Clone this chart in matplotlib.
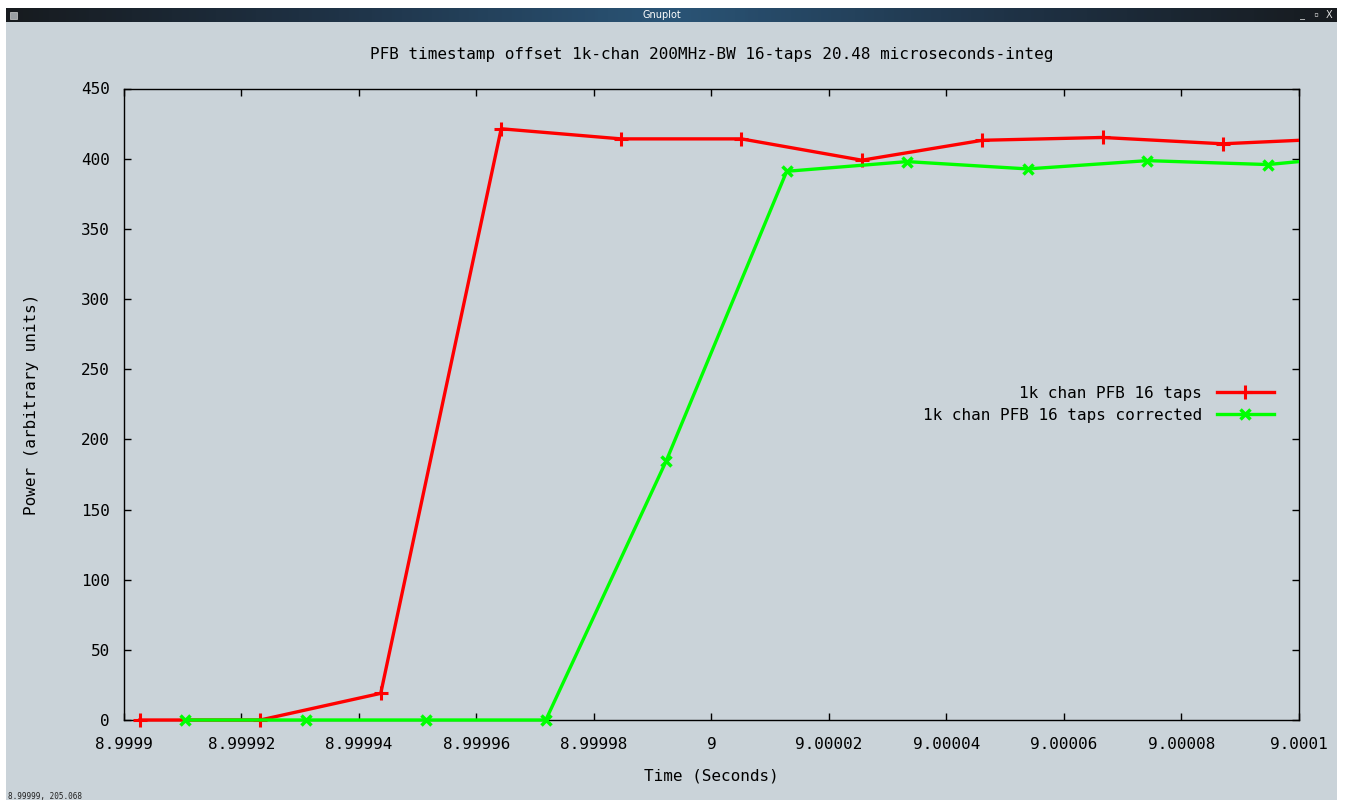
import numpy as np
import matplotlib
matplotlib.use('Agg')
import matplotlib.pyplot as plt
from matplotlib.patches import Rectangle
from matplotlib.colors import LinearSegmentedColormap

### Data
# integration times (s) and power for the plain PFB run
t_plain = [8.9999027, 8.9999232, 8.9999437, 8.9999642, 8.9999846, 9.0000051,
           9.0000256, 9.0000461, 9.0000666, 9.0000870, 9.0001075]
p_plain = [0, 0, 19.0, 421.3, 414.1, 414.1, 398.9, 413.1, 415.1, 410.6, 414.5]

# same signal after the timestamp correction
t_corr = [8.9999104, 8.9999309, 8.9999514, 8.9999718, 8.9999923, 9.0000128,
          9.0000333, 9.0000538, 9.0000742, 9.0000947, 9.0001152]
p_corr = [0, 0, 0, 0, 184.7, 391.0, 397.9, 392.7, 398.6, 395.8, 404.0]

labels = ['1k chan PFB 16 taps', '1k chan PFB 16 taps corrected']
x_ticks = [8.9999, 8.99992, 8.99994, 8.99996, 8.99998, 9.0,
           9.00002, 9.00004, 9.00006, 9.00008, 9.0001]
x_tick_labels = ['8.9999', '8.99992', '8.99994', '8.99996', '8.99998', '9',
                 '9.00002', '9.00004', '9.00006', '9.00008', '9.0001']
y_ticks = [0, 50, 100, 150, 200, 250, 300, 350, 400, 450]

title = 'PFB timestamp offset 1k-chan 200MHz-BW 16-taps 20.48 microseconds-integ'

### Styling
W, H = 1346, 800
BG = '#cad3d9'
FONT = 'DejaVu Sans Mono'
FS = 11.5
plt.rcParams['font.family'] = FONT

fig = plt.figure(figsize=(W / 100, H / 100), dpi=100)
fig.patch.set_facecolor('white')

# window body
fig.patches.append(Rectangle((6 / W, 0), 1331 / W, 1 - 22 / H, transform=fig.transFigure,
                             facecolor=BG, edgecolor='none', zorder=-1))

# title bar with gradient
bar = fig.add_axes([6 / W, 1 - 22 / H, 1331 / W, 14 / H])
cmap = LinearSegmentedColormap.from_list('bar', ['#171b1f', '#1f3347', '#2a5476', '#1f3347', '#171b1f'])
bar.imshow(np.linspace(0, 1, 400)[None, :], aspect='auto', cmap=cmap, extent=(0, 1, 0, 1))
bar.set_axis_off()
bar.text(656 / 1331, 0.5, 'Gnuplot', color='white', fontsize=7, ha='center', va='center',
         family='DejaVu Sans', transform=bar.transAxes)
bar.add_patch(Rectangle((4 / 1331, 0.2), 7 / 1331, 0.55, facecolor='#9a9fa3', edgecolor='#d0d0d0',
                        lw=0.5, transform=bar.transAxes))
bar.text(1297 / 1331, 0.45, '_', color='#dddddd', fontsize=6, ha='center', va='center', transform=bar.transAxes)
bar.text(1310 / 1331, 0.5, '\u25ab', color='#dddddd', fontsize=6, ha='center', va='center', transform=bar.transAxes)
bar.text(1323 / 1331, 0.5, 'X', color='#dddddd', fontsize=7, ha='center', va='center',
         family='DejaVu Sans', transform=bar.transAxes)

# plot area
ax = fig.add_axes([124 / W, 1 - 720 / H, 1175 / W, (720 - 88.5) / H])
ax.set_facecolor(BG)

clip = Rectangle((0, -0.05), 1, 1.1, transform=ax.transAxes)
l1, = ax.plot(t_plain, p_plain, color='#ff0000', lw=2.4, marker='+', ms=9.5, mew=2.2, label=labels[0], zorder=3)
l2, = ax.plot(t_corr, p_corr, color='#00ff00', lw=2.4, marker='x', ms=7.5, mew=2.5, label=labels[1], zorder=3)
for ln in (l1, l2):
    ln.set_clip_path(clip)

ax.set_xlim(8.9999, 9.0001)
ax.set_ylim(0, 450)
ax.set_xticks(x_ticks)
ax.set_xticklabels(x_tick_labels)
ax.set_yticks(y_ticks)
ax.tick_params(direction='in', length=5, width=1, top=True, right=True, labelsize=FS, pad=10)
ax.tick_params(axis='x', pad=12)
for s in ax.spines.values():
    s.set_linewidth(1)
    s.set_color('black')

fig.text(711.5 / W, 1 - 55 / H, title, ha='center', va='center', fontsize=FS)
fig.text(711.5 / W, 1 - 776 / H, 'Time (Seconds)', ha='center', va='center', fontsize=FS)
fig.text(32 / W, 1 - 404 / H, 'Power (arbitrary units)', ha='center', va='center', rotation=90, fontsize=FS)

ax.legend(loc='center right', bbox_to_anchor=(1 - 25 / 1175, 0.5), frameon=False, markerfirst=False,
          fontsize=FS, handlelength=3.6, handletextpad=0.9, labelspacing=0.42, borderpad=0, borderaxespad=0)

# mouse position readout in the corner
fig.text(8 / W, 1 - 799 / H, '8.99999, 205.068', fontsize=5.5, va='baseline', ha='left', color='#222222')

fig.savefig('out.png', dpi=100, facecolor=fig.get_facecolor())
